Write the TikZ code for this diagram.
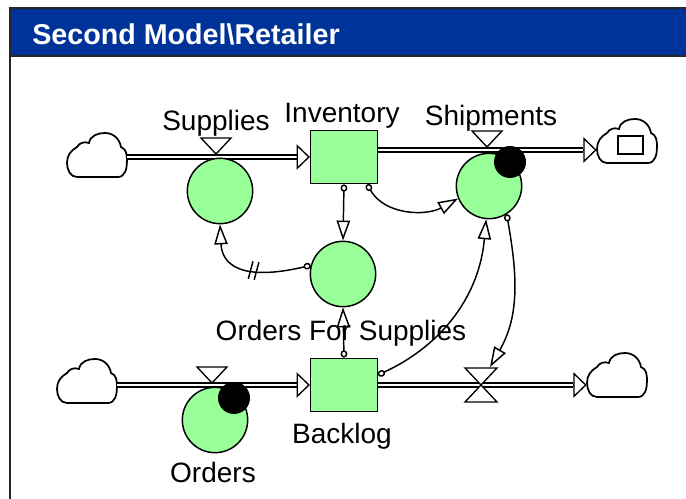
\documentclass[tikz,border=0pt]{standalone}
\usepackage{fontspec}
\setmainfont{Liberation Sans}
\usepackage{tikz}
\usetikzlibrary{shapes,arrows.meta,positioning,calc,decorations.markings}

\definecolor{winblue}{RGB}{0,51,153}
\definecolor{vgreen}{RGB}{153,255,153}

\tikzset{
    stock/.style={draw,line width=1.1pt,fill=vgreen,minimum width=50pt,minimum height=40pt,inner sep=0pt},
    aux/.style={draw,line width=1.1pt,fill=vgreen,circle,minimum size=49pt,inner sep=0pt},
    cloudbox/.style={minimum width=45pt,minimum height=33pt,inner sep=0pt},
    lbl/.style={font=\fontsize{21}{24}\selectfont,inner sep=0pt,anchor=base},
    pipe/.style={double,double distance=2pt,line width=1pt,shorten >=10pt},
    flowtip/.style={-{Triangle[open,length=10pt,width=19pt]},line width=1pt},
    link/.style={{Circle[open,length=5.5pt,width=5pt]}-{Triangle[open,length=15pt,width=10pt]},line width=1.1pt},
    delaymark/.style={postaction={decorate},decoration={markings,mark=at position #1 with {\draw[line width=1.1pt,-] (-3,-9) -- (-1,9) (3,-9) -- (5,9);}}},
    cloudicon/.pic={\draw[line width=1.3pt,fill=white] (-20,-22) -- (21,-22) to[out=0,in=-90] (30,-6) to[out=90,in=-20] (24,8)
        to[out=100,in=0] (8,22) to[out=180,in=80] (-8,12) to[out=160,in=60] (-20,8) to[out=-150,in=90] (-30,-8)
        to[out=-90,in=180] (-20,-22) -- cycle;},
    valve/.pic={\draw[line width=1pt,fill=white] (-15,16) -- (15,16) -- (0,0) -- cycle;},
}

\begin{document}
\begin{tikzpicture}[x=0.75pt,y=0.75pt]
    \useasboundingbox (0,0) rectangle (686,499);

    % Window frame and title bar
    \fill[winblue] (10,444) rectangle (686,490);
    \draw[line width=1.5pt,black!85] (10,0) -- (10,491) -- (686,491);
    \draw[line width=1.2pt,black!85] (10,443) -- (686,443);
    \node[font=\bfseries\fontsize{21.5}{24}\selectfont,text=white,anchor=base west,inner sep=0pt] (title) at (32,454) {Second Model\textbackslash Retailer};

    % Stocks
    \node[stock] (inv) at (344,342) {};
    \node[stock] (backlog) at (344,114) {};

    % Clouds
    \foreach \name/\x/\y in {srcInv/97/344,sinkInv/627/358,srcBack/87/118,sinkBack/617/124} {
        \node[cloudbox] (\name) at (\x,\y) {};
        \pic at (\x,\y) {cloudicon};
    }
    \draw[line width=1.2pt] (618,345) rectangle (643,363);

    % Flows
    \coordinate (invOut) at ($(inv.east)+(0,7)$);
    \draw[pipe] (srcInv.east |- inv.west) -- (inv.west);
    \draw[flowtip] ($(inv.west)+(-10pt,0)$) -- (inv.west);
    \draw[pipe] (invOut) -- (invOut -| sinkInv.west);
    \draw[flowtip] ($(invOut -| sinkInv.west)+(-10pt,0)$) -- (invOut -| sinkInv.west);
    \draw[pipe] (srcBack.east |- backlog.west) -- (backlog.west);
    \draw[flowtip] ($(backlog.west)+(-10pt,0)$) -- (backlog.west);
    \draw[pipe] (backlog.east) -- (backlog.east -| sinkBack.west);
    \draw[flowtip] ($(backlog.east -| sinkBack.west)+(-10pt,0)$) -- (backlog.east -| sinkBack.west);

    % Valves
    \pic at (216,345) {valve};
    \pic at (487,352) {valve};
    \pic at (212,116) {valve};
    \coordinate (backValve) at (481,114);
    \draw[line width=1pt,fill=white] (465,131) -- (497,131) -- (465,97) -- (497,97) -- cycle;

    % Auxiliaries
    \node[aux] (supplies) at (220,308) {};
    \node[aux] (shipments) at (489,313) {};
    \node[aux] (ofs) at (343,225) {};
    \node[aux] (orders) at (215,79) {};
    \fill (510,337) circle (16);
    \fill (234,101) circle (16);

    % Labels
    \node[lbl] (supLbl) at (216,368) {Supplies};
    \node[lbl] (invLbl) at (342,376) {Inventory};
    \node[lbl] (shipLbl) at (491,373) {Shipments};
    \node[lbl] (ofsLbl) at (341,158) {Orders For Supplies};
    \node[lbl] (backLbl) at (342,55) {Backlog};
    \node[lbl] (ordLbl) at (213,16) {Orders};

    % Links
    \draw[link] (inv.south) -- (ofs.north);
    \draw[link] ($(inv.south east)+(-11,0)$) to[out=-60,in=209] (shipments.202);
    \draw[link,delaymark=0.47] (ofs.165) .. controls (240,217) and (222,235) .. (supplies.south);
    \draw[link] (backlog.north) -- (ofs.south);
    \draw[link] ($(backlog.east)+(0,10)$) to[out=25,in=-95] (shipments.265);
    \draw[link] (shipments.-58) to[out=-80,in=60] ($(backValve)+(9,18)$);
\end{tikzpicture}
\end{document}
